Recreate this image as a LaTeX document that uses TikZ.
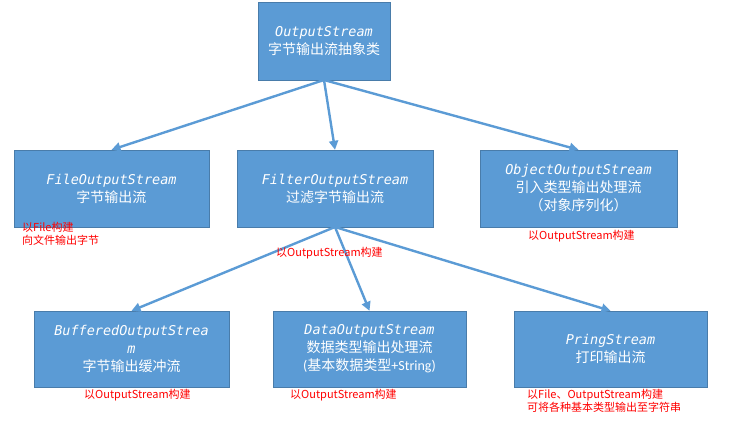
\documentclass[tikz,border=0pt]{standalone}
\usepackage{fontspec}
\newfontfamily\cjk{Noto Sans CJK SC}
\newfontfamily\monof{DejaVu Sans Mono}
\setmainfont{Carlito}
\usetikzlibrary{arrows.meta}
\definecolor{boxblue}{HTML}{5B9BD5}
\definecolor{arrblue}{HTML}{5B9BD5}
\tikzset{
 x=1pt,y=-1pt,
 cls/.style={fill=boxblue,draw=boxblue!80!black,line width=0.4pt,text=white,align=center,font=\fontsize{14}{18}\selectfont,inner sep=2pt},
 conn/.style={draw=arrblue,line width=2.4pt,-{Triangle[length=9pt,width=9pt]}},
 note/.style={text=red,font=\fontsize{11}{13}\selectfont\cjk,align=left,inner sep=0pt,anchor=north west}
}
\newcommand{\cn}[1]{{\monof\itshape\fontsize{13.5}{18}\selectfont #1}}
\begin{document}
\begin{tikzpicture}
\useasboundingbox (0,0) rectangle (734,429);
\node[cls,minimum width=132pt,minimum height=78pt] (top) at (324,41) {\cn{OutputStream}\\{\cjk\itshape 字节输出流抽象类}};
\node[cls,minimum width=195pt,minimum height=77pt] (file) at (111.5,188.5) {\cn{FileOutputStream}\\{\cjk 字节输出流}};
\node[cls,minimum width=196pt,minimum height=77pt] (filter) at (335,188.5) {\cn{FilterOutputStream}\\{\cjk 过滤字节输出流}};
\node[cls,minimum width=197pt,minimum height=77pt] (obj) at (578.5,188.5) {\cn{ObjectOutputStream}\\{\cjk 引入类型输出处理流}\\{\cjk （对象序列化）}};
\node[cls,minimum width=195pt,minimum height=76pt] (buf) at (131.5,349) {\cn{BufferedOutputStrea}\\\cn{m}\\{\cjk 字节输出缓冲流}};
\node[cls,minimum width=193pt,minimum height=76pt] (data) at (369.5,349) {\cn{DataOutputStream}\\{\cjk 数据类型输出处理流}\\({\cjk 基本数据类型}+String)};
\node[cls,minimum width=193pt,minimum height=76pt] (pring) at (610.5,349) {\cn{PringStream}\\{\cjk 打印输出流}};
\coordinate (t) at (324,80);
\draw[conn] (t) -- (file.north);
\draw[conn] (t) -- (filter.north);
\draw[conn] (t) -- (obj.north);
\coordinate (f) at (335,227);
\draw[conn] (f) -- (buf.north);
\draw[conn] (f) -- (data.north);
\draw[conn] (f) -- (pring.north);
\node[note] (n1) at (22,222) {以File构建\\向文件输出字节};
\node[note] (n2) at (276,247) {以OutputStream构建};
\node[note] (n3) at (528,230) {以OutputStream构建};
\node[note] (n4) at (84,389) {以OutputStream构建};
\node[note] (n5) at (290,389) {以OutputStream构建};
\node[note] (n6) at (527,389) {以File、OutputStream构建\\可将各种基本类型输出至字符串};
\end{tikzpicture}
\end{document}
